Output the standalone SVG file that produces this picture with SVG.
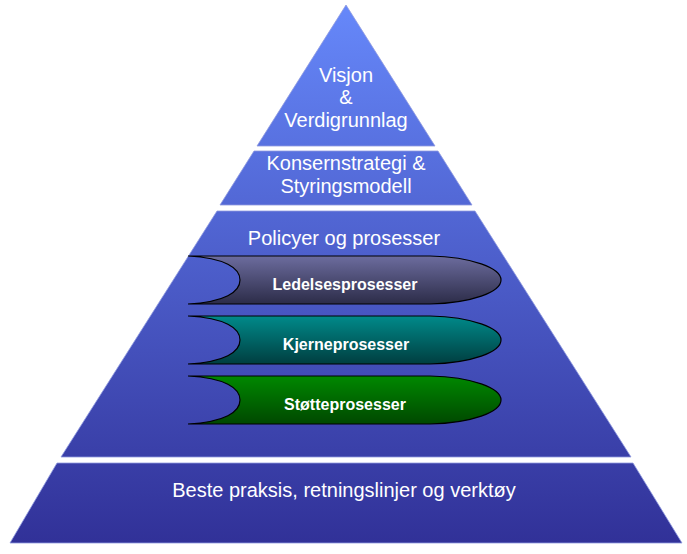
<svg xmlns="http://www.w3.org/2000/svg" width="687" height="554" viewBox="0 0 687 554">
<defs>
<linearGradient id="pyr" gradientUnits="userSpaceOnUse" x1="0" y1="5" x2="0" y2="543">
<stop offset="0" stop-color="#6688fa"/>
<stop offset="1" stop-color="#313198"/>
</linearGradient>
<linearGradient id="gLed" x1="0" y1="0" x2="0" y2="1">
<stop offset="0" stop-color="#6c6c9e"/>
<stop offset="1" stop-color="#2c2c48"/>
</linearGradient>
<linearGradient id="gKje" x1="0" y1="0" x2="0" y2="1">
<stop offset="0" stop-color="#008a8a"/>
<stop offset="1" stop-color="#003e40"/>
</linearGradient>
<linearGradient id="gSto" x1="0" y1="0" x2="0" y2="1">
<stop offset="0" stop-color="#008800"/>
<stop offset="1" stop-color="#004800"/>
</linearGradient>
</defs>
<style>
.band{fill:url(#pyr);stroke:#8f9ae0;stroke-width:0.8}
.t{font-family:"Liberation Sans",Arial,sans-serif;font-size:20px;fill:#ffffff;text-anchor:middle}
.p{font-family:"Liberation Sans",Arial,sans-serif;font-size:16px;font-weight:bold;fill:#ffffff;text-anchor:middle}
.arr{stroke:#000000;stroke-width:1.2}
</style>
<rect width="687" height="554" fill="#ffffff"/>
<g id="visjon">
<polygon class="band" points="346,5 435,146 257,146"/>
<text class="t" x="346" y="82">Visjon</text>
<text class="t" x="346" y="104">&amp;</text>
<text class="t" x="346" y="127">Verdigrunnlag</text>
</g>
<g id="konsernstrategi">
<polygon class="band" points="254,151 438,151 472,205 220,205"/>
<text class="t" x="346" y="170">Konsernstrategi &amp;</text>
<text class="t" x="346" y="193">Styringsmodell</text>
</g>
<g id="policyer">
<polygon class="band" points="217,211 475,211 631,457 61,457"/>
<text class="t" x="344" y="245">Policyer og prosesser</text>
</g>
<g id="ledelsesprosesser">
<path class="arr" fill="url(#gLed)" d="M188,256 L430,256 C472,257 501,268 501,280 C501,292 472,303 430,304 L188,304 C225,302 240,292 240,280 C240,268 225,258 188,256 Z"/>
<text class="p" x="345" y="290">Ledelsesprosesser</text>
</g>
<g id="kjerneprosesser">
<path class="arr" fill="url(#gKje)" d="M188,316 L430,316 C472,317 501,328 501,340 C501,352 472,363 430,364 L188,364 C225,362 240,352 240,340 C240,328 225,318 188,316 Z"/>
<text class="p" x="346" y="350">Kjerneprosesser</text>
</g>
<g id="stotteprosesser">
<path class="arr" fill="url(#gSto)" d="M188,376 L430,376 C472,377 501,388 501,400 C501,412 472,423 430,424 L188,424 C225,422 240,412 240,400 C240,388 225,378 188,376 Z"/>
<text class="p" x="345" y="410">Støtteprosesser</text>
</g>
<g id="beste-praksis">
<polygon class="band" points="57,463 633,463 682,543 10,543"/>
<text class="t" x="344" y="497">Beste praksis, retningslinjer og verktøy</text>
</g>
<g id="connectors"></g>
</svg>
